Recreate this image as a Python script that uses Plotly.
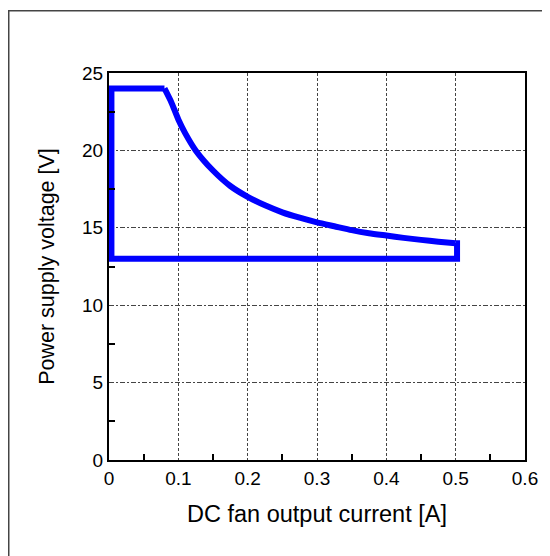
import plotly.graph_objects as go

# Curve part of the operating region boundary
curve_current = [0.080, 0.090, 0.100, 0.110, 0.125, 0.150, 0.175, 0.200, 0.225, 0.250, 0.275,
                 0.300, 0.325, 0.350, 0.375, 0.400, 0.425, 0.450, 0.475, 0.500]
curve_voltage = [24.0, 23.1, 22.0, 21.1, 20.0, 18.7, 17.7, 17.0, 16.45, 16.0, 15.65,
                 15.35, 15.1, 14.85, 14.65, 14.5, 14.35, 14.22, 14.1, 14.0]

# Straight parts of the boundary
edge_current = [0.500, 0.502, 0.502, 0.0035, 0.0035, 0.080]
edge_voltage = [14.0, 14.0, 13.0, 13.0, 24.0, 24.0]

x_ticks = [0, 0.1, 0.2, 0.3, 0.4, 0.5, 0.6]
x_tick_labels = ["0", "0.1", "0.2", "0.3", "0.4", "0.5", "0.6"]
y_ticks = [0, 5, 10, 15, 20, 25]
y_tick_labels = ["0", "5", "10", "15", "20", "25"]

BLUE = "#0000FF"
FONT = "Liberation Sans, Arial, sans-serif"

fig = go.Figure()
fig.add_trace(go.Scatter(x=edge_current, y=edge_voltage, mode="lines",
                         line=dict(color=BLUE, width=6), hoverinfo="skip",
                         showlegend=False))
fig.add_trace(go.Scatter(x=curve_current, y=curve_voltage, mode="lines",
                         line=dict(color=BLUE, width=6, shape="spline", smoothing=0.6),
                         hoverinfo="skip", showlegend=False))

axis_common = dict(
    showline=True, linecolor="black", linewidth=2, mirror=True,
    ticks="inside", ticklen=0, tickcolor="black",
    showgrid=True, gridcolor="#444444", gridwidth=1,
    zeroline=False,
    tickfont=dict(family=FONT, size=19, color="black"),
)

fig.update_xaxes(**axis_common, range=[0, 0.6], tickvals=x_ticks, ticktext=x_tick_labels,
                 griddash="3px,2px",
                 minor=dict(tickvals=[0.05, 0.15, 0.25, 0.35, 0.45, 0.55], ticks="inside",
                            ticklen=6, tickcolor="black", tickwidth=2, showgrid=False),
                 title=dict(text="DC fan output current [A]",
                            font=dict(family=FONT, size=23.5, color="black"), standoff=18))
fig.update_yaxes(**axis_common, range=[0, 25], tickvals=y_ticks, ticktext=y_tick_labels,
                 griddash="5px,2px,2px,2px",
                 minor=dict(tickvals=[2.5, 7.5, 12.5, 17.5, 22.5], ticks="inside",
                            ticklen=6, tickcolor="black", tickwidth=2, showgrid=False),
                 title=dict(text="Power supply voltage [V]",
                            font=dict(family=FONT, size=21.5, color="black"), standoff=22))

fig.update_layout(
    width=542, height=548,
    margin=dict(l=101, r=25, t=65, b=96),
    paper_bgcolor="white", plot_bgcolor="white",
    showlegend=False,
    shapes=[dict(type="rect", xref="paper", yref="paper",
                 x0=-0.241, x1=1.2, y0=-0.5, y1=1.161,
                 line=dict(color="#444444", width=1.5), fillcolor="rgba(0,0,0,0)",
                 layer="below")],
)

fig.write_html("out.html")
